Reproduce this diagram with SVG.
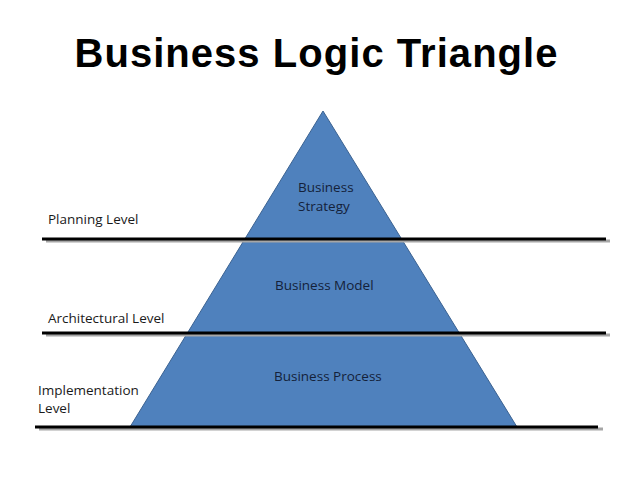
<svg xmlns="http://www.w3.org/2000/svg" width="638" height="479" viewBox="0 0 638 479">
<style>
.t{font-family:"Liberation Sans",Arial,sans-serif;font-weight:bold;font-size:40px;fill:#000}
.l{font-family:"Open Sans","Liberation Sans",sans-serif;font-size:13.5px;fill:#1a1a1a}
.n{font-family:"Open Sans","Liberation Sans",sans-serif;font-size:13.5px;fill:#14213a}
.ln{stroke:#000;stroke-width:3}
.sh{stroke:#a6a6a6;stroke-width:3}
</style>
<rect width="638" height="479" fill="#fff"/>
<text class="t" x="316" y="67" text-anchor="middle" textLength="483" lengthAdjust="spacing">Business Logic Triangle</text>
<g id="triangle">
<polygon points="323,111 517,427 130,427" fill="#4F81BD" stroke="#3B6291" stroke-width="1"/>
</g>
<g id="connectors">
<line class="sh" x1="46" y1="241" x2="610" y2="241"/>
<line class="ln" x1="42" y1="239" x2="606" y2="239"/>
<line class="sh" x1="46" y1="335" x2="610" y2="335"/>
<line class="ln" x1="42" y1="333" x2="606" y2="333"/>
<line class="sh" x1="39" y1="429" x2="603" y2="429"/>
<line class="ln" x1="35" y1="427" x2="598" y2="427"/>
</g>
<g id="planning"><text class="l" x="48" y="224">Planning Level</text></g>
<g id="architectural"><text class="l" x="48" y="323">Architectural Level</text></g>
<g id="implementation"><text class="l" x="38" y="395">Implementation</text><text class="l" x="38" y="413">Level</text></g>
<g id="strategy"><text class="n" x="298" y="192">Business</text><text class="n" x="298" y="211">Strategy</text></g>
<g id="model"><text class="n" x="275" y="290">Business Model</text></g>
<g id="process"><text class="n" x="274" y="381">Business Process</text></g>
</svg>
